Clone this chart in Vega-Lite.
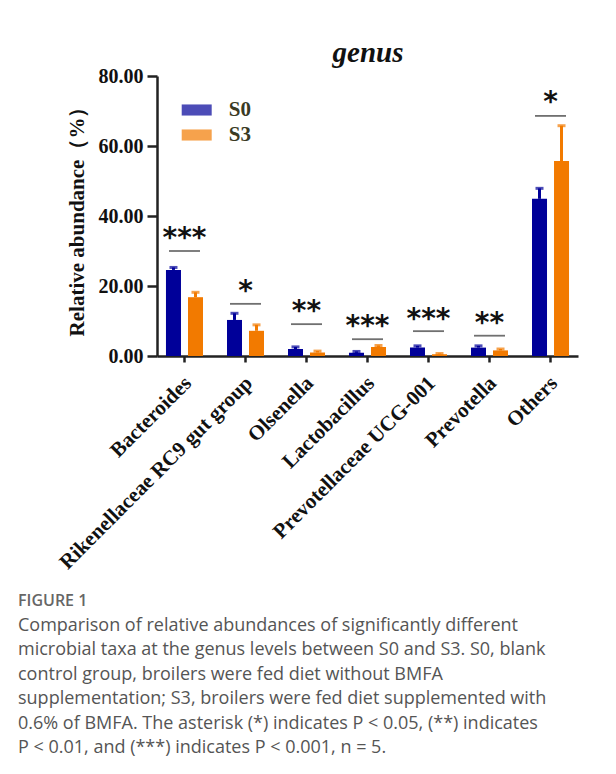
{
  "$schema": "https://vega.github.io/schema/vega-lite/v6.json",
  "autosize": "none",
  "width": 421,
  "height": 280,
  "padding": {"left": 157, "top": 76, "right": 38, "bottom": 418},
  "background": "white",
  "title": {
    "text": "FIGURE 1",
    "subtitle": [
      "Comparison of relative abundances of significantly different",
      "microbial taxa at the genus levels between S0 and S3. S0, blank",
      "control group, broilers were fed diet without BMFA",
      "supplementation; S3, broilers were fed diet supplemented with",
      "0.6% of BMFA. The asterisk (*) indicates P < 0.05, (**) indicates",
      "P < 0.01, and (***) indicates P < 0.001, n = 5."
    ],
    "orient": "bottom",
    "anchor": "start",
    "frame": "group",
    "dx": -139,
    "offset": 20,
    "font": "Open Sans",
    "fontSize": 16,
    "fontWeight": 600,
    "color": "#666666",
    "subtitleFont": "Open Sans",
    "subtitleFontSize": 18,
    "subtitleColor": "#555555",
    "subtitleLineHeight": 24.5,
    "subtitlePadding": 8
  },
  "datasets": {
    "bars": [
      {"genus": "Bacteroides", "group": "S0", "value": 24.6, "err": 25.3},
      {"genus": "Bacteroides", "group": "S3", "value": 16.8, "err": 18.2},
      {"genus": "Rikenellaceae RC9 gut group", "group": "S0", "value": 10.3, "err": 12.2},
      {"genus": "Rikenellaceae RC9 gut group", "group": "S3", "value": 7.2, "err": 8.9},
      {"genus": "Olsenella", "group": "S0", "value": 2.0, "err": 2.6},
      {"genus": "Olsenella", "group": "S3", "value": 1.0, "err": 1.4},
      {"genus": "Lactobacillus", "group": "S0", "value": 0.9, "err": 1.3},
      {"genus": "Lactobacillus", "group": "S3", "value": 2.6, "err": 3.0},
      {"genus": "Prevotellaceae UCG-001", "group": "S0", "value": 2.4, "err": 2.9},
      {"genus": "Prevotellaceae UCG-001", "group": "S3", "value": 0.5, "err": 0.7},
      {"genus": "Prevotella", "group": "S0", "value": 2.4, "err": 2.9},
      {"genus": "Prevotella", "group": "S3", "value": 1.6, "err": 2.0},
      {"genus": "Others", "group": "S0", "value": 44.9, "err": 47.9},
      {"genus": "Others", "group": "S3", "value": 55.7, "err": 65.8}
    ],
    "sig": [
      {"genus": "Bacteroides", "line": 30.0, "star": 35.1, "label": "***"},
      {"genus": "Rikenellaceae RC9 gut group", "line": 14.9, "star": 20.1, "label": "*"},
      {"genus": "Olsenella", "line": 9.1, "star": 14.3, "label": "**"},
      {"genus": "Lactobacillus", "line": 4.8, "star": 10.0, "label": "***"},
      {"genus": "Prevotellaceae UCG-001", "line": 7.1, "star": 12.0, "label": "***"},
      {"genus": "Prevotella", "line": 5.8, "star": 11.0, "label": "**"},
      {"genus": "Others", "line": 68.6, "star": 74.1, "label": "*"}
    ]
  },
  "resolve": {"axis": {"x": "independent"}},
  "layer": [
    {
      "data": {"name": "bars"},
      "mark": {"type": "bar"},
      "encoding": {
        "x": {
          "field": "genus", "type": "nominal", "sort": null, "title": null,
          "scale": {"paddingInner": 0.393, "paddingOuter": 0.147},
          "axis": {
            "orient": "bottom", "labelAngle": -45, "labelAlign": "right", "labelBaseline": "top",
            "labelFont": "Liberation Serif", "labelFontWeight": "bold", "labelFontSize": 21,
            "labelColor": "#111111", "labelPadding": 10, "labelOffset": -4, "labelLimit": 400,
            "domainColor": "#222222", "domainWidth": 2.5,
            "tickColor": "#222222", "tickWidth": 2.5, "tickSize": 6
          }
        },
        "xOffset": {"field": "group", "type": "nominal", "scale": {"paddingInner": 0.318, "paddingOuter": 0}},
        "y": {
          "field": "value", "type": "quantitative", "title": "Relative abundance（%）",
          "scale": {"domain": [0, 80], "nice": false},
          "axis": {
            "values": [0, 20, 40, 60, 80], "format": ".2f", "grid": false,
            "labelFont": "Liberation Serif", "labelFontWeight": "bold", "labelFontSize": 20,
            "labelColor": "#111111", "labelPadding": 4,
            "domainColor": "#222222", "domainWidth": 2.5,
            "tickColor": "#222222", "tickWidth": 2.5, "tickSize": 10,
            "titleFont": "Liberation Serif", "titleFontWeight": "bold", "titleFontSize": 21,
            "titleColor": "#111111", "titlePadding": 11
          }
        },
        "color": {
          "field": "group", "type": "nominal",
          "scale": {"domain": ["S0", "S3"], "range": ["#000099", "#F27A00"]},
          "legend": {
            "orient": "none", "legendX": 24.7, "legendY": 19, "title": null,
            "symbolType": "M-1,-0.37H1V0.37H-1Z", "symbolSize": 900, "symbolStrokeWidth": 0,
            "symbolOpacity": 1,
            "labelFont": "Liberation Serif", "labelFontWeight": "bold", "labelFontSize": 21,
            "labelColor": "#3a3a24", "labelOffset": 17, "rowPadding": -1, "padding": 0
          }
        }
      }
    },
    {
      "data": {"name": "bars"},
      "mark": {"type": "rule", "strokeWidth": 3},
      "encoding": {
        "x": {"field": "genus", "type": "nominal", "sort": null, "title": null, "axis": null},
        "xOffset": {"field": "group", "type": "nominal"},
        "y": {"field": "value", "type": "quantitative", "title": "Relative abundance（%）"},
        "y2": {"field": "err"},
        "color": {"field": "group", "type": "nominal"}
      }
    },
    {
      "data": {"name": "bars"},
      "mark": {"type": "tick", "thickness": 3, "size": 8},
      "encoding": {
        "x": {"field": "genus", "type": "nominal", "sort": null, "title": null, "axis": null},
        "xOffset": {"field": "group", "type": "nominal"},
        "y": {"field": "err", "type": "quantitative", "title": "Relative abundance（%）"},
        "color": {"field": "group", "type": "nominal"}
      }
    },
    {
      "data": {"name": "sig"},
      "mark": {"type": "tick", "thickness": 1.8, "size": 31, "color": "#333333"},
      "encoding": {
        "x": {"field": "genus", "type": "nominal", "sort": null, "title": null, "axis": null},
        "y": {"field": "line", "type": "quantitative", "title": "Relative abundance（%）"}
      }
    },
    {
      "data": {"name": "sig"},
      "mark": {"type": "text", "font": "DejaVu Sans", "fontWeight": "bold", "fontSize": 28, "baseline": "middle", "align": "center", "dy": 6, "color": "#111111"},
      "encoding": {
        "x": {
          "field": "genus", "type": "nominal", "sort": null, "title": "genus",
          "axis": {
            "orient": "top", "labels": false, "ticks": false, "domain": false, "tickSize": 0,
            "titleFont": "Liberation Serif", "titleFontWeight": "bold", "titleFontStyle": "italic",
            "titleFontSize": 29, "titleColor": "#111111", "titlePadding": 9
          }
        },
        "y": {"field": "star", "type": "quantitative", "title": "Relative abundance（%）"},
        "text": {"field": "label"}
      }
    }
  ],
  "config": {"view": {"stroke": null}}
}
